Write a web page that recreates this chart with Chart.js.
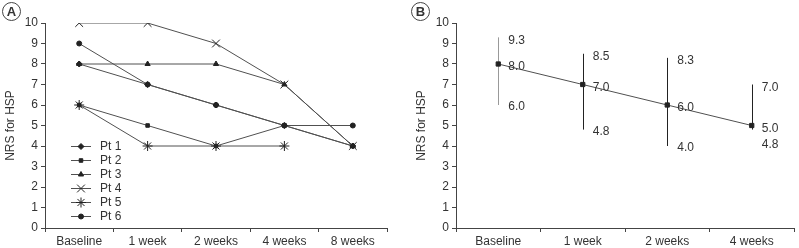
<!DOCTYPE html>
<html>
<head>
<meta charset="utf-8">
<script src="https://cdn.jsdelivr.net/npm/chart.js@4/dist/chart.umd.min.js"></script>
<style>
  html, body { margin: 0; padding: 0; background: #fff; }
  body { width: 799px; height: 248px; position: relative; overflow: hidden; font-family: "Liberation Sans", Arial, sans-serif; }
  .panel { position: absolute; top: 0; height: 248px; }
  #panelA { left: 0; width: 400px; }
  #panelB { left: 400px; width: 399px; }
  .tag {
    position: absolute; top: 2px; width: 17px; height: 17px; border: 1px solid #444; border-radius: 50%;
    font: bold 13px "Liberation Sans", Arial, sans-serif; color: #333; text-align: center; line-height: 17px;
  }
</style>
</head>
<body>
<div class="panel" id="panelA"><canvas id="chartA" width="400" height="248"></canvas><div class="tag" style="left:2px">A</div></div>
<div class="panel" id="panelB"><canvas id="chartB" width="399" height="248"></canvas><div class="tag" style="left:11px">B</div></div>
<script>
// ---- panel A: individual patients
const weeksA = ['Baseline', '1 week', '2 weeks', '4 weeks', '8 weeks'];
const pt1 = [8, 7, 6, 5, 4];
const pt2 = [6, 5, 4, 5, 4];
const pt3 = [8, 8, 8, 7, 4];
const pt4 = [10, 10, 9, 7, 4];
const pt5 = [6, 4, 4, 4, null];
const pt6 = [9, 7, 6, 5, 5];

// ---- panel B: mean with range
const weeksB = ['Baseline', '1 week', '2 weeks', '4 weeks'];
const meanB  = [8.0, 7.0, 6.0, 5.0];
const upperB = [9.3, 8.5, 8.3, 7.0];
const lowerB = [6.0, 4.8, 4.0, 4.8];

const INK = '#333';
const FONT = { family: '"Liberation Sans", Arial, sans-serif', size: 12 };

function axes(yWidth, titlePad) {
  return {
    x: {
      offset: true,
      grid: { offset: true, drawOnChartArea: false, tickLength: 4, tickColor: '#444' },
      border: { color: '#444' },
      ticks: { color: INK, font: FONT, padding: 2, maxRotation: 0, autoSkip: false },
      afterFit: s => { s.height = 20; }
    },
    y: {
      min: 0, max: 10,
      grid: { drawOnChartArea: false, tickLength: 4, tickColor: '#444' },
      border: { color: '#444' },
      ticks: { stepSize: 1, color: INK, font: FONT, padding: 3 },
      title: { display: true, text: 'NRS for HSP', color: INK, font: FONT, padding: { top: titlePad, bottom: 0 } },
      afterFit: s => { s.width = yWidth; }
    }
  };
}

function series(label, data, style, radius) {
  return {
    label, data, pointStyle: style, pointRadius: radius,
    borderColor: '#505050', borderWidth: 1, backgroundColor: '#222',
    pointBorderColor: '#222', pointBackgroundColor: '#222', pointBorderWidth: 1,
    tension: 0, spanGaps: false
  };
}

// legend drawn inside the plot, as in the figure
const innerLegend = {
  id: 'innerLegend',
  afterDraw(chart) {
    const ctx = chart.ctx;
    ctx.save();
    chart.data.datasets.forEach((ds, i) => {
      const y = 146 + i * 14;
      ctx.strokeStyle = ds.borderColor;
      ctx.lineWidth = 1;
      ctx.beginPath(); ctx.moveTo(71, y + 0.5); ctx.lineTo(91, y + 0.5); ctx.stroke();
      ctx.fillStyle = '#222'; ctx.strokeStyle = '#222';
      Chart.helpers.drawPoint(ctx, { pointStyle: ds.pointStyle, radius: ds.pointRadius, rotation: 0, borderWidth: 1 }, 81, y + 0.5);
      ctx.fillStyle = INK;
      ctx.font = '12px "Liberation Sans", Arial, sans-serif';
      ctx.textBaseline = 'middle';
      ctx.fillText(ds.label, 100, y + 1);
    });
    ctx.restore();
  }
};

new Chart(document.getElementById('chartA'), {
  type: 'line',
  data: {
    labels: weeksA,
    datasets: [
      series('Pt 1', pt1, 'rectRot', 3),
      series('Pt 2', pt2, 'rect', 2.5),
      series('Pt 3', pt3, 'triangle', 3),
      series('Pt 4', pt4, 'crossRot', 5.5),
      series('Pt 5', pt5, 'star', 5),
      series('Pt 6', pt6, 'circle', 2.5)
    ]
  },
  options: {
    responsive: false, animation: false,
    layout: { padding: { top: 23, right: 13, left: 0, bottom: 0 } },
    plugins: { legend: { display: false }, tooltip: { enabled: false } },
    scales: axes(45, 3)
  },
  plugins: [innerLegend]
});

// range bars and value labels for panel B
const rangeBars = {
  id: 'rangeBars',
  beforeDatasetsDraw(chart) {
    const { ctx, scales: { x, y } } = chart;
    ctx.save();
    ctx.lineWidth = 1;
    meanB.forEach((m, i) => {
      const px = Math.round(x.getPixelForValue(i)) + 0.5;
      ctx.strokeStyle = i === 0 ? '#999' : '#222';
      ctx.beginPath();
      ctx.moveTo(px, y.getPixelForValue(upperB[i]));
      ctx.lineTo(px, y.getPixelForValue(lowerB[i]));
      ctx.stroke();
    });
    ctx.restore();
  },
  afterDraw(chart) {
    const { ctx, scales: { x, y } } = chart;
    ctx.save();
    ctx.fillStyle = INK;
    ctx.font = '12px "Liberation Sans", Arial, sans-serif';
    ctx.textBaseline = 'middle';
    meanB.forEach((m, i) => {
      const px = x.getPixelForValue(i) + 10;
      const ym = y.getPixelForValue(m);
      ctx.fillText(upperB[i].toFixed(1), px, y.getPixelForValue(upperB[i]) + 3);
      ctx.fillText(m.toFixed(1), px, ym + 3);
      ctx.fillText(lowerB[i].toFixed(1), px, Math.max(y.getPixelForValue(lowerB[i]), ym + 17) + 2);
    });
    ctx.restore();
  }
};

new Chart(document.getElementById('chartB'), {
  type: 'line',
  data: {
    labels: weeksB,
    datasets: [series('Mean', meanB, 'rect', 3)]
  },
  options: {
    responsive: false, animation: false,
    layout: { padding: { top: 23, right: 2, left: 0, bottom: 0 } },
    plugins: { legend: { display: false }, tooltip: { enabled: false } },
    scales: axes(56, 14)
  },
  plugins: [rangeBars]
});
</script>
</body>
</html>
